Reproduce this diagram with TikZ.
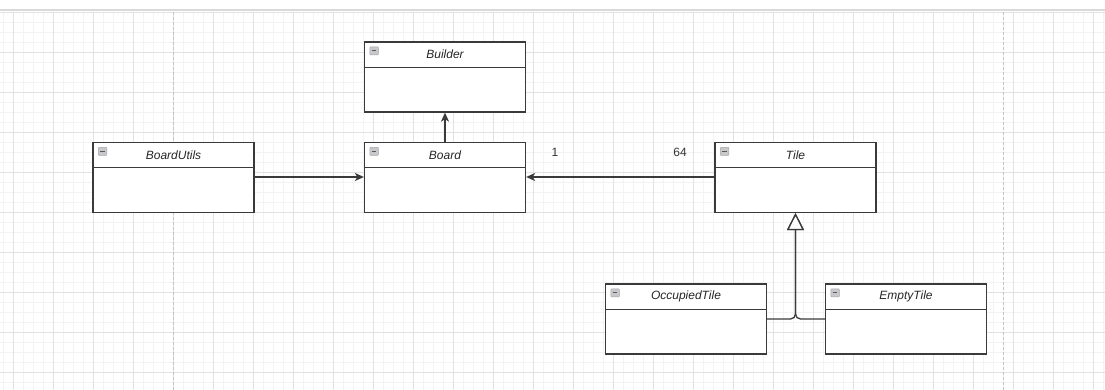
\documentclass[tikz,border=0pt]{standalone}
\usepackage{fontspec}
\setmainfont{Liberation Sans}
\usetikzlibrary{arrows.meta}
\definecolor{gridminor}{HTML}{F3F3F3}
\definecolor{gridmajor}{HTML}{E2E2E2}
\definecolor{pageline}{HTML}{C4C4C4}
\definecolor{boxline}{HTML}{3A3A3A}
\definecolor{iconfill}{HTML}{C8C8CC}
\tikzset{
  umlbox/.style={draw=boxline, line width=1.3pt, fill=white, minimum width=161pt, minimum height=70pt, inner sep=0pt},
  umltitle/.style={font=\itshape\fontsize{12}{14}\selectfont, text=black!85, inner sep=0pt},
  mult/.style={font=\fontsize{12}{14}\selectfont, text=black!80, inner sep=0pt},
  assoc/.style={draw=boxline, line width=1.3pt, -{Stealth[length=9pt, width=8pt, inset=2.5pt]}},
  inherit/.style={draw=boxline, line width=1.3pt, rounded corners=5pt, -{Triangle[open, length=17pt, width=17pt, fill=white]}},
}
\newcommand{\umlclassbox}[4]{%
  \node[umlbox] (#1) at (#3,#4) {};
  \draw[draw=boxline, line width=1.3pt] ([yshift=-26pt]#1.north west) -- ([yshift=-26pt]#1.north east);
  \node[umltitle] (#1-title) at ([yshift=-13pt]#1.north) {#2};
  \draw[draw=gray!70, fill=iconfill, line width=0.5pt, rounded corners=0.8pt] ([xshift=6pt,yshift=-5.5pt]#1.north west) rectangle ([xshift=14.5pt,yshift=-13.5pt]#1.north west);
  \draw[draw=black!65, line width=1pt] ([xshift=8pt,yshift=-9.5pt]#1.north west) -- ([xshift=12.5pt,yshift=-9.5pt]#1.north west);
}
\begin{document}
\begin{tikzpicture}[x=1pt, y=-1pt]
\useasboundingbox (0,0) rectangle (1105,390);
\fill[white] (0,0) rectangle (1105,390);
% grid
\foreach \gx in {3,13,...,1103} \draw[gridminor, line width=0.6pt] (\gx,12) -- (\gx,390);
\foreach \gy in {12,22,...,390} \draw[gridminor, line width=0.6pt] (0,\gy) -- (1105,\gy);
\foreach \gx in {13,53,...,1103} \draw[gridmajor, line width=0.7pt] (\gx,12) -- (\gx,390);
\foreach \gy in {12,52,...,390} \draw[gridmajor, line width=0.7pt] (0,\gy) -- (1105,\gy);
\draw[pageline, line width=0.9pt, dash pattern=on 3pt off 2pt] (173,12) -- (173,390);
\draw[pageline, line width=0.9pt, dash pattern=on 3pt off 2pt] (1003,12) -- (1003,390);
\fill[white] (0,0) rectangle (1105,9);
\draw[gray!30, line width=2pt] (0,10) -- (1105,10);
% classes
\umlclassbox{builder}{Builder}{445}{77}
\umlclassbox{board}{Board}{445}{177.5}
\umlclassbox{boardutils}{BoardUtils}{173.5}{177.5}
\umlclassbox{tile}{Tile}{795.5}{177.5}
\umlclassbox{occupied}{OccupiedTile}{686}{319}
\umlclassbox{empty}{EmptyTile}{906}{319}
% connectors
\draw[assoc] (board.north) -- (builder.south);
\draw[assoc] ([yshift=0.5pt]boardutils.east) -- ([yshift=0.5pt]board.west);
\draw[assoc] ([yshift=0.5pt]tile.west) -- ([yshift=0.5pt]board.east);
\node[mult] (m1) at (555,152) {1};
\node[mult] (m64) at (680,152) {64};
\draw[inherit] (occupied.east) -| (tile.south);
\draw[inherit] (empty.west) -| (tile.south);
\end{tikzpicture}
\end{document}
